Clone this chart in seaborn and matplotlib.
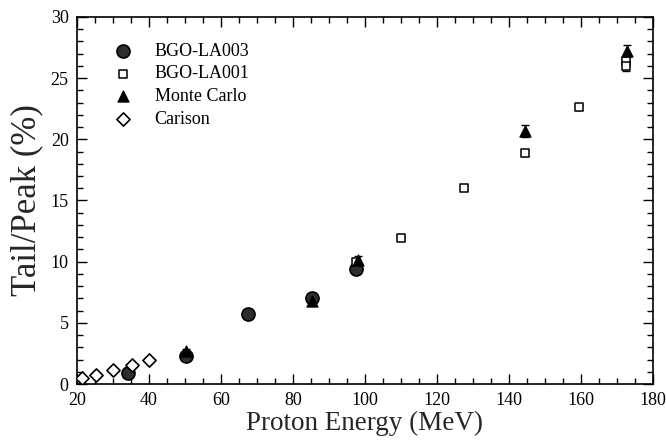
import matplotlib
matplotlib.use("Agg")
import matplotlib.pyplot as plt
from matplotlib.ticker import MultipleLocator
import seaborn as sns
import pandas as pd

# Tail-to-peak ratio versus proton energy
la003_energy = [34.2, 50.4, 67.4, 85.2, 97.6]
la003_ratio = [0.9, 2.3, 5.7, 7.0, 9.4]

la001_energy = [97.6, 110.0, 127.5, 144.6, 159.5, 172.6, 172.6]
la001_ratio = [10.0, 11.9, 16.0, 18.9, 22.6, 26.4, 26.0]
la001_err = [0.2, 0.15, 0.15, 0.25, 0.2, 0.35, 0.4]

mc_energy = [50.4, 85.2, 98.0, 144.6, 172.9]
mc_ratio = [2.7, 6.8, 10.1, 20.7, 27.2]
mc_err = [0.15, 0.15, 0.4, 0.5, 0.5]

carlson_energy = [21.4, 25.3, 30.0, 35.3, 40.0]
carlson_ratio = [0.5, 0.75, 1.14, 1.55, 1.96]

sns.set_theme(style="ticks")
plt.rcParams["font.family"] = ["Liberation Serif", "DejaVu Serif"]

fig = plt.figure(figsize=(6.66, 4.46), dpi=100)
ax = fig.add_axes([0.1156, 0.139, 0.8644, 0.823])

ax.errorbar(la001_energy, la001_ratio, yerr=la001_err, fmt="none",
            ecolor="black", elinewidth=1.0, capsize=3, capthick=1.0, zorder=2)
ax.errorbar(mc_energy, mc_ratio, yerr=mc_err, fmt="none",
            ecolor="black", elinewidth=1.0, capsize=3, capthick=1.0, zorder=2)

df_la003 = pd.DataFrame({"E": la003_energy, "R": la003_ratio})
df_la001 = pd.DataFrame({"E": la001_energy, "R": la001_ratio})
df_mc = pd.DataFrame({"E": mc_energy, "R": mc_ratio})
df_carlson = pd.DataFrame({"E": carlson_energy, "R": carlson_ratio})

sns.scatterplot(data=df_la003, x="E", y="R", ax=ax, marker="o", s=88,
                color="#2e2e2e", edgecolor="black", linewidth=1.2,
                label="BGO-LA003", zorder=3)
sns.scatterplot(data=df_la001, x="E", y="R", ax=ax, marker="s", s=38,
                facecolor="white", edgecolor="black", linewidth=1.1,
                label="BGO-LA001", zorder=4)
sns.scatterplot(data=df_mc, x="E", y="R", ax=ax, marker="^", s=65,
                color="black", edgecolor="black", linewidth=0.8,
                label="Monte Carlo", zorder=5)
sns.scatterplot(data=df_carlson, x="E", y="R", ax=ax, marker="D", s=45,
                facecolor="white", edgecolor="black", linewidth=1.2,
                label="Carison", zorder=3)

ax.set_xlim(20, 180)
ax.set_ylim(0, 30)
ax.xaxis.set_major_locator(MultipleLocator(20))
ax.xaxis.set_minor_locator(MultipleLocator(5))
ax.yaxis.set_major_locator(MultipleLocator(5))
ax.yaxis.set_minor_locator(MultipleLocator(1))
ax.tick_params(which="both", direction="in", top=True, right=True,
               labelsize=13, colors="black", pad=6)
ax.tick_params(which="major", length=7, width=1.0)
ax.tick_params(which="minor", length=4, width=1.0)
for spine in ax.spines.values():
    spine.set_visible(True)
    spine.set_color("black")
    spine.set_linewidth(1.2)

ax.set_xlabel("Proton Energy (MeV)", fontsize=19.5, labelpad=1)
ax.set_ylabel("Tail/Peak (%)", fontsize=25, labelpad=5)

leg = ax.legend(loc="upper left", bbox_to_anchor=(0.036, 0.95), frameon=False,
                fontsize=13, handletextpad=0.75, labelspacing=0.32,
                borderaxespad=0.0)
for t in leg.get_texts():
    t.set_color("black")

fig.savefig("out.png", dpi=100)
